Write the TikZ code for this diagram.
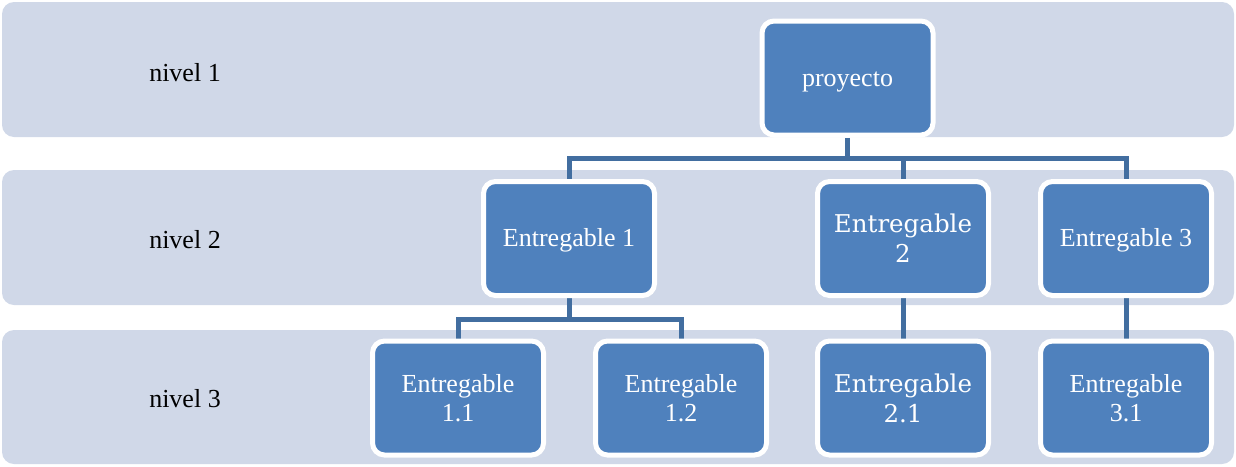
\documentclass[tikz,border=0pt]{standalone}
\usepackage{fontspec}
\setmainfont{Liberation Serif}
\newfontfamily\cambr{DejaVu Serif}
\usetikzlibrary{positioning}
\definecolor{bandc}{RGB}{208,216,232}
\definecolor{boxc}{RGB}{79,129,189}
\definecolor{linec}{RGB}{66,110,160}
\pgfdeclarelayer{bands}
\pgfdeclarelayer{lines}
\pgfsetlayers{bands,lines,main}
\tikzset{
  band/.style={fill=bandc, rounded corners=12pt},
  wbs/.style={rectangle, rounded corners=12pt, fill=boxc, draw=white, line width=5pt,
    minimum width=171pt, minimum height=114pt, text=white, align=center, inner sep=2pt,
    font=\fontsize{26pt}{29pt}\selectfont},
  oneline/.style={wbs, text height=20pt, text depth=4pt},
  wbsalt/.style={wbs, font=\cambr\fontsize{24.5pt}{30pt}\selectfont},
  lvl/.style={font=\fontsize{26pt}{29pt}\selectfont, text=black},
  conn/.style={draw=linec, line width=5pt},
}
\begin{document}
\begin{tikzpicture}[x=1pt,y=-1pt]
\useasboundingbox (0,0) rectangle (1236,466);
\begin{pgfonlayer}{bands}
\fill[band] (2,2) rectangle (1234,137);
\fill[band] (2,170) rectangle (1234,305);
\fill[band] (2,330) rectangle (1234,464);
\end{pgfonlayer}
\node[lvl] (l1) at (185,73) {nivel 1};
\node[lvl] (l2) at (185,240) {nivel 2};
\node[lvl] (l3) at (185,399) {nivel 3};

\node[oneline] (p) at (847.5,78) {proyecto};
\node[oneline] (e1) at (569,238.5) {Entregable 1};
\node[wbsalt] (e2) at (903,238.5) {Entregable\\2};
\node[oneline] (e3) at (1126,238.5) {Entregable 3};
\node[wbs] (e11) at (458,398) {Entregable\\1.1};
\node[wbs] (e12) at (681,398) {Entregable\\1.2};
\node[wbsalt] (e21) at (903,398) {Entregable\\2.1};
\node[wbs] (e31) at (1126,398) {Entregable\\3.1};

\coordinate (bus1) at (0,158);
\coordinate (bus2) at (0,319);
\begin{pgfonlayer}{lines}
\draw[conn] (p.south) -- (p.south |- bus1) -| (e1.north);
\draw[conn] (p.south |- bus1) -| (e2.north);
\draw[conn] (p.south |- bus1) -| (e3.north);
\draw[conn] (e1.south) -- (e1.south |- bus2) -| (e11.north);
\draw[conn] (e1.south |- bus2) -| (e12.north);
\draw[conn] (e2.south) -- (e21.north);
\draw[conn] (e3.south) -- (e31.north);
\end{pgfonlayer}
\end{tikzpicture}
\end{document}
